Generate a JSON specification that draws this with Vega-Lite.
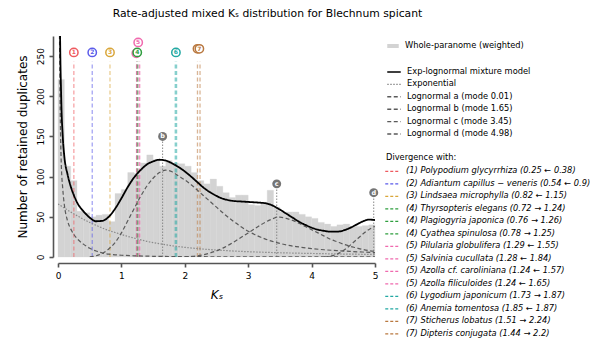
{
  "$schema": "https://vega.github.io/schema/vega-lite/v6.json",
  "width": 317,
  "height": 221,
  "autosize": {"type": "none"},
  "padding": {"left": 58, "top": 36, "right": 217, "bottom": 88},
  "background": "white",
  "config": {
    "font": "DejaVu Sans",
    "view": {"stroke": null},
    "legend": {"padding": 0, "labelColor": "black", "labelFontSize": 8.3, "labelLimit": 300}
  },
  "title": {
    "text": "Rate-adjusted mixed Kₛ distribution for Blechnum spicant",
    "fontSize": 10.8,
    "fontWeight": "normal",
    "color": "black",
    "anchor": "middle",
    "frame": "group",
    "dx": 51,
    "offset": 16
  },
  "datasets": {
    "hist": [
      {"s": "Whole-paranome (weighted)", "k0": 0.0, "k1": 0.1, "n": 221}, {"s": "Whole-paranome (weighted)", "k0": 0.1, "k1": 0.2, "n": 113}, {"s": "Whole-paranome (weighted)", "k0": 0.2, "k1": 0.3, "n": 95},
      {"s": "Whole-paranome (weighted)", "k0": 0.3, "k1": 0.4, "n": 57}, {"s": "Whole-paranome (weighted)", "k0": 0.4, "k1": 0.5, "n": 55}, {"s": "Whole-paranome (weighted)", "k0": 0.5, "k1": 0.6, "n": 50},
      {"s": "Whole-paranome (weighted)", "k0": 0.6, "k1": 0.7, "n": 52}, {"s": "Whole-paranome (weighted)", "k0": 0.7, "k1": 0.8, "n": 53}, {"s": "Whole-paranome (weighted)", "k0": 0.8, "k1": 0.9, "n": 44},
      {"s": "Whole-paranome (weighted)", "k0": 0.9, "k1": 1.0, "n": 79}, {"s": "Whole-paranome (weighted)", "k0": 1.0, "k1": 1.1, "n": 84}, {"s": "Whole-paranome (weighted)", "k0": 1.1, "k1": 1.2, "n": 105},
      {"s": "Whole-paranome (weighted)", "k0": 1.2, "k1": 1.3, "n": 104}, {"s": "Whole-paranome (weighted)", "k0": 1.3, "k1": 1.4, "n": 117}, {"s": "Whole-paranome (weighted)", "k0": 1.4, "k1": 1.5, "n": 127},
      {"s": "Whole-paranome (weighted)", "k0": 1.5, "k1": 1.6, "n": 121}, {"s": "Whole-paranome (weighted)", "k0": 1.6, "k1": 1.7, "n": 113}, {"s": "Whole-paranome (weighted)", "k0": 1.7, "k1": 1.8, "n": 120},
      {"s": "Whole-paranome (weighted)", "k0": 1.8, "k1": 1.9, "n": 117}, {"s": "Whole-paranome (weighted)", "k0": 1.9, "k1": 2.0, "n": 116}, {"s": "Whole-paranome (weighted)", "k0": 2.0, "k1": 2.1, "n": 113},
      {"s": "Whole-paranome (weighted)", "k0": 2.1, "k1": 2.2, "n": 105}, {"s": "Whole-paranome (weighted)", "k0": 2.2, "k1": 2.3, "n": 95}, {"s": "Whole-paranome (weighted)", "k0": 2.3, "k1": 2.4, "n": 91},
      {"s": "Whole-paranome (weighted)", "k0": 2.4, "k1": 2.5, "n": 97}, {"s": "Whole-paranome (weighted)", "k0": 2.5, "k1": 2.6, "n": 88}, {"s": "Whole-paranome (weighted)", "k0": 2.6, "k1": 2.7, "n": 80},
      {"s": "Whole-paranome (weighted)", "k0": 2.7, "k1": 2.8, "n": 74}, {"s": "Whole-paranome (weighted)", "k0": 2.8, "k1": 2.9, "n": 77}, {"s": "Whole-paranome (weighted)", "k0": 2.9, "k1": 3.0, "n": 77},
      {"s": "Whole-paranome (weighted)", "k0": 3.0, "k1": 3.1, "n": 65}, {"s": "Whole-paranome (weighted)", "k0": 3.1, "k1": 3.2, "n": 64}, {"s": "Whole-paranome (weighted)", "k0": 3.2, "k1": 3.3, "n": 68},
      {"s": "Whole-paranome (weighted)", "k0": 3.3, "k1": 3.4, "n": 83}, {"s": "Whole-paranome (weighted)", "k0": 3.4, "k1": 3.5, "n": 62}, {"s": "Whole-paranome (weighted)", "k0": 3.5, "k1": 3.6, "n": 56},
      {"s": "Whole-paranome (weighted)", "k0": 3.6, "k1": 3.7, "n": 56}, {"s": "Whole-paranome (weighted)", "k0": 3.7, "k1": 3.8, "n": 56}, {"s": "Whole-paranome (weighted)", "k0": 3.8, "k1": 3.9, "n": 53},
      {"s": "Whole-paranome (weighted)", "k0": 3.9, "k1": 4.0, "n": 50}, {"s": "Whole-paranome (weighted)", "k0": 4.0, "k1": 4.1, "n": 48}, {"s": "Whole-paranome (weighted)", "k0": 4.1, "k1": 4.2, "n": 43},
      {"s": "Whole-paranome (weighted)", "k0": 4.2, "k1": 4.3, "n": 41}, {"s": "Whole-paranome (weighted)", "k0": 4.3, "k1": 4.4, "n": 38}, {"s": "Whole-paranome (weighted)", "k0": 4.4, "k1": 4.5, "n": 40},
      {"s": "Whole-paranome (weighted)", "k0": 4.5, "k1": 4.6, "n": 41}, {"s": "Whole-paranome (weighted)", "k0": 4.6, "k1": 4.7, "n": 38}, {"s": "Whole-paranome (weighted)", "k0": 4.7, "k1": 4.8, "n": 38},
      {"s": "Whole-paranome (weighted)", "k0": 4.8, "k1": 4.9, "n": 39}, {"s": "Whole-paranome (weighted)", "k0": 4.9, "k1": 5.0, "n": 40}
    ],
    "curves": [
      {"ks": 0, "ex": 66},
      {"ks": 0.01, "mix": 700, "la": 600},
      {"ks": 0.02, "mix": 420, "la": 330},
      {"ks": 0.03, "mix": 300, "la": 220},
      {"ks": 0.05, "mix": 200, "la": 120},
      {"ks": 0.075, "mix": 150, "la": 85},
      {"ks": 0.1, "mix": 125, "ex": 61, "la": 65},
      {"ks": 0.15, "mix": 103, "la": 45},
      {"ks": 0.2, "mix": 88, "ex": 56, "la": 35},
      {"ks": 0.25, "mix": 77, "la": 28},
      {"ks": 0.3, "mix": 68, "ex": 51.5, "la": 23},
      {"ks": 0.4, "mix": 57, "ex": 47, "la": 16},
      {"ks": 0.5, "mix": 49, "ex": 43, "la": 11, "lb": 0.3},
      {"ks": 0.6, "mix": 44.5, "ex": 39.5, "la": 7.5, "lb": 1.5},
      {"ks": 0.7, "mix": 45, "ex": 36, "la": 5, "lb": 4.5},
      {"ks": 0.8, "mix": 50, "ex": 33, "la": 3.5, "lb": 10},
      {"ks": 0.9, "mix": 60, "ex": 30.5, "la": 2.7, "lb": 18},
      {"ks": 1.0, "mix": 73, "ex": 28, "la": 2.2, "lb": 30},
      {"ks": 1.1, "mix": 87, "lb": 45},
      {"ks": 1.2, "mix": 99, "ex": 23.5, "la": 1.5, "lb": 60},
      {"ks": 1.3, "mix": 108, "lb": 75},
      {"ks": 1.4, "mix": 115, "ex": 19.5, "lb": 88},
      {"ks": 1.5, "mix": 119, "la": 0.9, "lb": 98},
      {"ks": 1.6, "mix": 121, "ex": 16.5, "lb": 105},
      {"ks": 1.7, "mix": 120, "lb": 108},
      {"ks": 1.8, "mix": 116.5, "ex": 14, "lb": 106},
      {"ks": 1.9, "mix": 112, "lb": 101},
      {"ks": 2.0, "mix": 106.5, "ex": 12, "la": 0.5, "lb": 96, "lc": 0.3},
      {"ks": 2.1, "mix": 100, "lb": 90},
      {"ks": 2.2, "mix": 93, "ex": 10.5, "lb": 83, "lc": 1.5},
      {"ks": 2.3, "mix": 86, "lb": 76},
      {"ks": 2.4, "mix": 80.5, "ex": 9.2, "lb": 69, "lc": 5},
      {"ks": 2.5, "mix": 76, "lb": 62},
      {"ks": 2.6, "mix": 72.5, "ex": 8.2, "lb": 55, "lc": 11},
      {"ks": 2.7, "mix": 70.5, "lb": 48.5},
      {"ks": 2.8, "mix": 69.5, "ex": 7.3, "lb": 42.5, "lc": 20},
      {"ks": 2.9, "mix": 69, "lb": 37},
      {"ks": 3.0, "mix": 68.5, "ex": 6.6, "la": 0.2, "lb": 32, "lc": 30},
      {"ks": 3.1, "mix": 68, "lb": 28, "lc": 35},
      {"ks": 3.2, "mix": 67.5, "lb": 24.5, "lc": 40},
      {"ks": 3.3, "mix": 66.5, "lb": 21.5, "lc": 44.5},
      {"ks": 3.4, "mix": 63.5, "lb": 19, "lc": 48},
      {"ks": 3.45, "lc": 49.5},
      {"ks": 3.5, "mix": 59, "ex": 5.3, "lb": 17, "lc": 49.5},
      {"ks": 3.6, "mix": 54, "lb": 15, "lc": 48},
      {"ks": 3.7, "mix": 49, "lc": 45.5},
      {"ks": 3.8, "mix": 44, "lb": 12.5, "lc": 42},
      {"ks": 3.9, "mix": 40, "lc": 38},
      {"ks": 4.0, "mix": 36.5, "ex": 4.4, "la": 0.1, "lb": 10.5, "lc": 34},
      {"ks": 4.1, "mix": 34, "lc": 30},
      {"ks": 4.2, "mix": 32.5, "lb": 9, "lc": 26, "ld": 0.2},
      {"ks": 4.3, "mix": 31.5, "lc": 22, "ld": 1},
      {"ks": 4.4, "mix": 31.5, "lb": 8, "lc": 19, "ld": 3.5},
      {"ks": 4.5, "mix": 33, "ex": 3.7, "lc": 16, "ld": 8},
      {"ks": 4.6, "mix": 36, "lb": 7, "lc": 13.5, "ld": 14},
      {"ks": 4.7, "mix": 40, "lc": 11.5, "ld": 21},
      {"ks": 4.8, "mix": 44, "lb": 6.2, "lc": 9.5, "ld": 28},
      {"ks": 4.9, "mix": 46.5, "lc": 8, "ld": 34},
      {"ks": 5.0, "mix": 46, "ex": 3.2, "la": 0.05, "lb": 5.5, "lc": 7, "ld": 38}
    ],
    "div": [
      {"ks": 0.25, "lab": "(1) Polypodium glycyrrhiza (0.25 ← 0.38)"},
      {"ks": 0.54, "lab": "(2) Adiantum capillus − veneris (0.54 ← 0.9)"},
      {"ks": 0.82, "lab": "(3) Lindsaea microphylla (0.82 ← 1.15)"},
      {"ks": 1.24, "lab": "(4) Thyrsopteris elegans (0.72 → 1.24)"},
      {"ks": 1.26, "lab": "(4) Plagiogyria japonica (0.76 → 1.26)"},
      {"ks": 1.25, "lab": "(4) Cyathea spinulosa (0.78 → 1.25)"},
      {"ks": 1.29, "lab": "(5) Pilularia globulifera (1.29 ← 1.55)"},
      {"ks": 1.28, "lab": "(5) Salvinia cucullata (1.28 ← 1.84)"},
      {"ks": 1.24, "lab": "(5) Azolla cf. caroliniana (1.24 ← 1.57)"},
      {"ks": 1.24, "lab": "(5) Azolla filiculoides (1.24 ← 1.65)"},
      {"ks": 1.87, "lab": "(6) Lygodium japonicum (1.73 → 1.87)"},
      {"ks": 1.85, "lab": "(6) Anemia tomentosa (1.85 ← 1.87)"},
      {"ks": 2.24, "lab": "(7) Sticherus lobatus (1.51 → 2.24)"},
      {"ks": 2.2, "lab": "(7) Dipteris conjugata (1.44 → 2.2)"}
    ],
    "marks": [
      {"n": "1", "ks": 0.25, "y": 254.6, "lab": "(1) Polypodium glycyrrhiza (0.25 ← 0.38)"},
      {"n": "2", "ks": 0.54, "y": 254.6, "lab": "(2) Adiantum capillus − veneris (0.54 ← 0.9)"},
      {"n": "3", "ks": 0.82, "y": 254.6, "lab": "(3) Lindsaea microphylla (0.82 ← 1.15)"},
      {"n": "", "ks": 1.235, "y": 253.5, "lab": "(5) Azolla cf. caroliniana (1.24 ← 1.57)"},
      {"n": "4", "ks": 1.25, "y": 254.6, "lab": "(4) Thyrsopteris elegans (0.72 → 1.24)"},
      {"n": "5", "ks": 1.265, "y": 267, "lab": "(5) Pilularia globulifera (1.29 ← 1.55)"},
      {"n": "6", "ks": 1.86, "y": 254.6, "lab": "(6) Lygodium japonicum (1.73 → 1.87)"},
      {"n": "", "ks": 2.2, "y": 259, "lab": "(7) Dipteris conjugata (1.44 → 2.2)"},
      {"n": "7", "ks": 2.23, "y": 259, "lab": "(7) Sticherus lobatus (1.51 → 2.24)"}
    ],
    "modes": [
      {"m": "b", "ks": 1.65, "y": 150, "y0": 0},
      {"m": "c", "ks": 3.45, "y": 91, "y0": 0},
      {"m": "d", "ks": 4.98, "y": 80, "y0": 0}
    ]
  },
  "layer": [
    {
      "data": {"name": "hist"},
      "mark": {"type": "rect", "stroke": "#d3d3d3", "strokeWidth": 0.3},
      "encoding": {
        "x": {
          "field": "k0", "type": "quantitative",
          "scale": {"domain": [0, 5], "nice": false, "zero": false},
          "axis": {
            "values": [0, 1, 2, 3, 4, 5], "format": "d", "offset": 6, "grid": false,
            "domainColor": "#555555", "domainWidth": 1.6, "tickColor": "#555555", "tickWidth": 1.6, "tickSize": 4,
            "labelFontSize": 9, "labelPadding": 4, "labelColor": "black", "labelFlush": false,
            "title": "Kₛ", "titleFontSize": 12, "titleFontStyle": "italic", "titleFontWeight": "normal", "titlePadding": 9, "titleColor": "black"
          }
        },
        "x2": {"field": "k1"},
        "y": {
          "field": "n", "type": "quantitative",
          "scale": {"domain": [0, 275], "nice": false},
          "axis": {
            "values": [0, 50, 100, 150, 200, 250], "offset": 5, "grid": false,
            "domainColor": "#555555", "domainWidth": 1.6, "tickColor": "#555555", "tickWidth": 1.6, "tickSize": 4,
            "labelFontSize": 9, "labelPadding": 4, "labelColor": "black", "labelAngle": 270, "labelAlign": "center", "labelBaseline": "bottom", "labelFlush": false,
            "title": "Number of retained duplicates", "titleFontSize": 12, "titleFontWeight": "normal", "titlePadding": 7, "titleColor": "black"
          }
        },
        "y2": {"datum": 0},
        "fill": {
          "field": "s", "type": "nominal",
          "scale": {"range": ["#d3d3d3"]},
          "legend": {
            "title": null, "orient": "none", "legendX": 330, "legendY": 5,
            "symbolType": "M-1.15,-0.4H1.15V0.4H-1.15Z", "symbolSize": 100, "symbolStrokeWidth": 0,
            "labelOffset": 7, "labelFontSize": 8.3
          }
        }
      }
    },
    {
      "data": {"name": "div"},
      "mark": {"type": "rule", "strokeDash": [4, 2.5], "strokeWidth": 1.3, "opacity": 0.55},
      "encoding": {
        "x": {"field": "ks", "type": "quantitative"},
        "y": {"datum": 0, "type": "quantitative"},
        "y2": {"datum": 243},
        "color": {
          "field": "lab", "type": "nominal",
          "scale": {
            "domain": [
              "(1) Polypodium glycyrrhiza (0.25 ← 0.38)",
              "(2) Adiantum capillus − veneris (0.54 ← 0.9)",
              "(3) Lindsaea microphylla (0.82 ← 1.15)",
              "(4) Thyrsopteris elegans (0.72 → 1.24)",
              "(4) Plagiogyria japonica (0.76 → 1.26)",
              "(4) Cyathea spinulosa (0.78 → 1.25)",
              "(5) Pilularia globulifera (1.29 ← 1.55)",
              "(5) Salvinia cucullata (1.28 ← 1.84)",
              "(5) Azolla cf. caroliniana (1.24 ← 1.57)",
              "(5) Azolla filiculoides (1.24 ← 1.65)",
              "(6) Lygodium japonicum (1.73 → 1.87)",
              "(6) Anemia tomentosa (1.85 ← 1.87)",
              "(7) Sticherus lobatus (1.51 → 2.24)",
              "(7) Dipteris conjugata (1.44 → 2.2)"
            ],
            "range": ["#ee5a5f", "#5b5bea", "#d9a63a", "#2e9e3e", "#2e9e3e", "#2e9e3e", "#f06aae", "#f06aae", "#f06aae", "#f06aae", "#22a8a2", "#22a8a2", "#b9783f", "#b9783f"]
          },
          "legend": {
            "title": "Divergence with:", "orient": "none", "legendX": 328, "legendY": 117,
            "symbolType": "M-1.35,0H1.35", "symbolSize": 100, "symbolStrokeWidth": 1.3, "symbolDash": [3, 2], "symbolOpacity": 0.55,
            "labelOffset": 8, "labelFontSize": 8.3, "labelFontStyle": "italic", "labelLimit": 300, "rowPadding": 2.5,
            "titleFontSize": 8.3, "titleFontWeight": "normal", "titlePadding": 4, "titleColor": "black"
          }
        }
      }
    },
    {
      "data": {"name": "modes"},
      "mark": {"type": "rule", "color": "#8a8a8a", "strokeDash": [1.5, 1.5], "strokeWidth": 1},
      "encoding": {
        "x": {"field": "ks", "type": "quantitative"},
        "y": {"field": "y0", "type": "quantitative"},
        "y2": {"field": "y"}
      }
    },
    {
      "data": {"name": "curves"},
      "transform": [
        {"fold": ["ex", "la", "lb", "lc", "ld"], "as": ["comp", "v"]},
        {"filter": "isValid(datum.v)"}
      ],
      "mark": {"type": "line", "strokeWidth": 1.2, "clip": true, "interpolate": "monotone"},
      "encoding": {
        "x": {"field": "ks", "type": "quantitative"},
        "y": {"field": "v", "type": "quantitative"},
        "stroke": {
          "field": "comp", "type": "nominal",
          "scale": {"domain": ["mix", "ex", "la", "lb", "lc", "ld"], "range": ["#000000", "#8a8a8a", "#5a5a5a", "#5a5a5a", "#5a5a5a", "#5a5a5a"]},
          "legend": {
            "title": null, "orient": "none", "legendX": 330, "legendY": 30,
            "symbolType": "M-1.35,0H1.35", "symbolSize": 100, "symbolStrokeWidth": 1.4,
            "labelOffset": 7, "labelFontSize": 8.3, "rowPadding": 2.4,
            "labelExpr": "{'mix':'Exp-lognormal mixture model','ex':'Exponential','la':'Lognormal a (mode 0.01)','lb':'Lognormal b (mode 1.65)','lc':'Lognormal c (mode 3.45)','ld':'Lognormal d (mode 4.98)'}[datum.label]"
          }
        },
        "strokeDash": {
          "field": "comp", "type": "nominal",
          "scale": {"domain": ["mix", "ex", "la", "lb", "lc", "ld"], "range": [[1, 0], [1.5, 1.5], [4, 2.5], [4, 2.5], [4, 2.5], [4, 2.5]]},
          "legend": {
            "title": null, "orient": "none", "legendX": 330, "legendY": 30,
            "symbolType": "M-1.35,0H1.35", "symbolSize": 100, "symbolStrokeWidth": 1.4,
            "labelOffset": 7, "labelFontSize": 8.3, "rowPadding": 2.4,
            "labelExpr": "{'mix':'Exp-lognormal mixture model','ex':'Exponential','la':'Lognormal a (mode 0.01)','lb':'Lognormal b (mode 1.65)','lc':'Lognormal c (mode 3.45)','ld':'Lognormal d (mode 4.98)'}[datum.label]"
          }
        }
      }
    },
    {
      "data": {"name": "curves"},
      "transform": [
        {"fold": ["mix"], "as": ["comp", "v"]},
        {"filter": "isValid(datum.v)"}
      ],
      "mark": {"type": "line", "strokeWidth": 1.8, "clip": true, "interpolate": "monotone"},
      "encoding": {
        "x": {"field": "ks", "type": "quantitative"},
        "y": {"field": "v", "type": "quantitative"},
        "stroke": {"field": "comp", "type": "nominal"},
        "strokeDash": {"field": "comp", "type": "nominal"}
      }
    },
    {
      "data": {"name": "modes"},
      "mark": {"type": "point", "shape": "circle", "filled": true, "color": "#757575", "size": 80, "opacity": 1},
      "encoding": {
        "x": {"field": "ks", "type": "quantitative"},
        "y": {"field": "y", "type": "quantitative"}
      }
    },
    {
      "data": {"name": "modes"},
      "mark": {"type": "text", "color": "white", "fontSize": 6.5, "fontWeight": "bold", "align": "center", "baseline": "middle"},
      "encoding": {
        "x": {"field": "ks", "type": "quantitative"},
        "y": {"field": "y", "type": "quantitative"},
        "text": {"field": "m"}
      }
    },
    {
      "data": {"name": "marks"},
      "mark": {"type": "point", "shape": "circle", "filled": false, "fill": "white", "size": 70, "strokeWidth": 1.5, "opacity": 1},
      "encoding": {
        "x": {"field": "ks", "type": "quantitative"},
        "y": {"field": "y", "type": "quantitative"},
        "color": {"field": "lab", "type": "nominal"}
      }
    },
    {
      "data": {"name": "marks"},
      "transform": [{"filter": "datum.n != ''"}],
      "mark": {"type": "text", "fontSize": 6, "fontWeight": "bold", "align": "center", "baseline": "middle"},
      "encoding": {
        "x": {"field": "ks", "type": "quantitative"},
        "y": {"field": "y", "type": "quantitative"},
        "text": {"field": "n"},
        "color": {"field": "lab", "type": "nominal"}
      }
    }
  ]
}
